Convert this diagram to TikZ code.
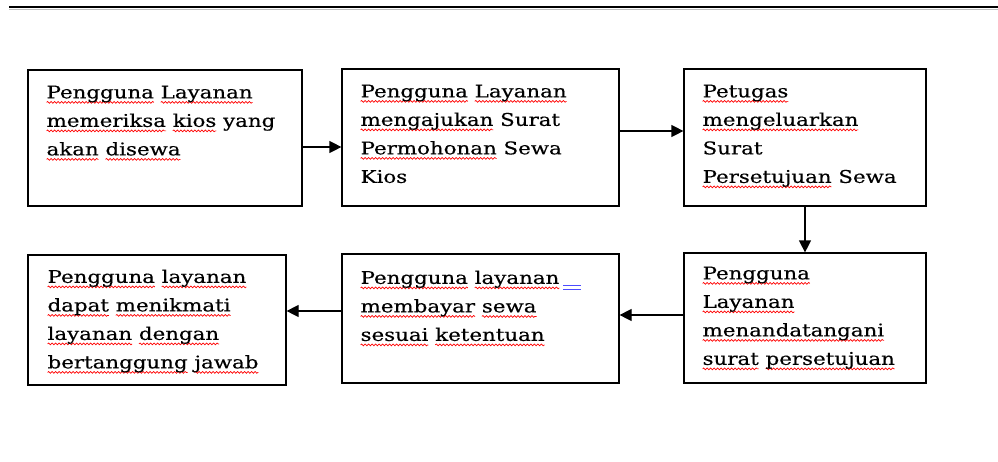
\documentclass[tikz,border=0pt]{standalone}
\usepackage{fontspec}
\setmainfont[FakeStretch=1.22,FakeBold=0.4]{DejaVu Serif}
\usetikzlibrary{arrows.meta,calc,decorations.pathmorphing}
\tikzset {>={Triangle[length=12pt,width=12pt]}}
\newcommand*{\sq}[1]{\setbox0=\hbox{#1}\rlap{\tikz[overlay,baseline=0pt,x=1pt,y=1pt]\draw[red,line width=0.7pt,decorate,decoration={snake,amplitude=0.9pt,segment length=3.5pt}] (0,-4) -- (\the\wd0,-4);}\box0\relax}

\begin{document}
\begin{tikzpicture}[x=1pt,y=-1pt,
  box/.style={draw,line width=1.2pt,inner sep=0pt},
  txt/.style={anchor=north west,inner sep=0pt,align=left,font=\fontsize{17.5}{28.5}\selectfont},
  flow/.style={->,line width=1.2pt}]
\useasboundingbox (0,0) rectangle (998,461);
\draw[gray!50,line width=1pt] (9,9) -- (998,9);
\draw[line width=2pt] (9,7) -- (998,7);
% top row
\node[box,minimum width=274pt,minimum height=136pt] (b1) at (165,138) {};
\node[box,minimum width=277pt,minimum height=137pt] (b2) at (480.5,137.5) {};
\node[box,minimum width=242pt,minimum height=137pt] (b3) at (805,137.5) {};
% bottom row
\node[box,minimum width=258pt,minimum height=130pt] (b4) at (157,320) {};
\node[box,minimum width=277pt,minimum height=129pt] (b5) at (480.5,318.5) {};
\node[box,minimum width=242pt,minimum height=130pt] (b6) at (805,318) {};
% texts
\node[txt] (t1) at ($(b1.north west)+(19,16)$) {\sq{Pengguna} \sq{Layanan}\\ \sq{memeriksa} \sq{kios} yang\\ \sq{akan} \sq{disewa}};
\node[txt] (t2) at ($(b2.north west)+(19,16)$) {\sq{Pengguna} \sq{Layanan}\\ \sq{mengajukan} Surat\\ \sq{Permohonan} Sewa\\ Kios};
\node[txt] (t3) at ($(b3.north west)+(19,16)$) {\sq{Petugas}\\ \sq{mengeluarkan}\\ Surat\\ \sq{Persetujuan} Sewa};
\node[txt] (t4) at ($(b4.north west)+(20,15)$) {\sq{Pengguna} \sq{layanan}\\ \sq{dapat} \sq{menikmati}\\ \sq{layanan} \sq{dengan}\\ \sq{bertanggung} \sq{jawab}};
\node[txt] (t5) at ($(b5.north west)+(19,17)$) {\sq{Pengguna} \sq{layanan}\\ \sq{membayar} \sq{sewa}\\ \sq{sesuai} \sq{ketentuan}};
\node[txt] (t6) at ($(b6.north west)+(19,14)$) {\sq{Pengguna}\\ \sq{Layanan}\\ \sq{menandatangani}\\ \sq{surat} \sq{persetujuan}};
\draw[blue!70,line width=1pt] (563,285) -- (581,285) (563,289) -- (581,289);
% arrows
\draw[flow] ([yshift=-9pt]b1.east) -- ([yshift=-9pt]b1.east -| b2.west);
\draw[flow] ([yshift=6.5pt]b2.east) -- ([yshift=6.5pt]b2.east -| b3.west);
\draw[flow] (b3.south) -- (b6.north);
\draw[flow] ([yshift=3pt]b6.west) -- ([yshift=3pt]b6.west -| b5.east);
\draw[flow] ([yshift=7.5pt]b5.west) -- ([yshift=7.5pt]b5.west -| b4.east);
\end{tikzpicture}
\end{document}
